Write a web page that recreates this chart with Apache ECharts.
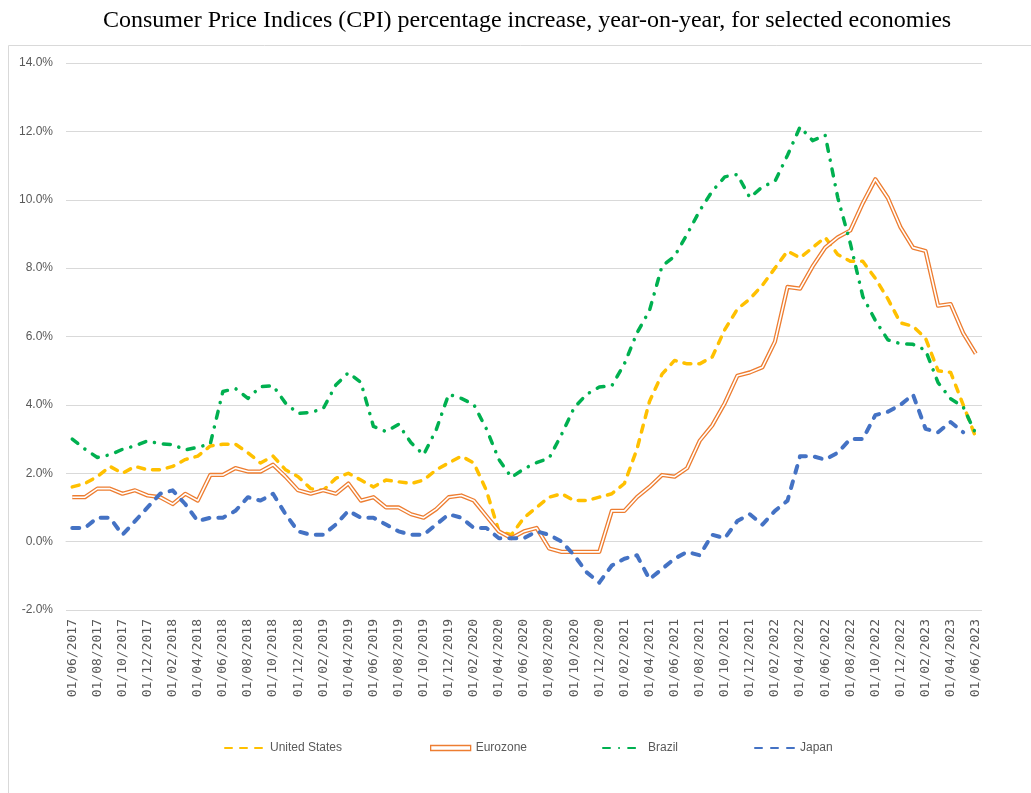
<!DOCTYPE html>
<html>
<head>
<meta charset="utf-8">
<script src="https://cdn.jsdelivr.net/npm/echarts@6/dist/echarts.min.js"></script>
<style>
  html, body { margin: 0; padding: 0; background: #fff; }
  #chart { width: 1031px; height: 793px; }
</style>
</head>
<body>
<div id="chart"></div>
<script>
const months = [
  '01/06/2017', '01/07/2017', '01/08/2017', '01/09/2017', '01/10/2017', '01/11/2017', '01/12/2017',
  '01/01/2018', '01/02/2018', '01/03/2018', '01/04/2018', '01/05/2018', '01/06/2018', '01/07/2018',
  '01/08/2018', '01/09/2018', '01/10/2018', '01/11/2018', '01/12/2018',
  '01/01/2019', '01/02/2019', '01/03/2019', '01/04/2019', '01/05/2019', '01/06/2019', '01/07/2019',
  '01/08/2019', '01/09/2019', '01/10/2019', '01/11/2019', '01/12/2019',
  '01/01/2020', '01/02/2020', '01/03/2020', '01/04/2020', '01/05/2020', '01/06/2020', '01/07/2020',
  '01/08/2020', '01/09/2020', '01/10/2020', '01/11/2020', '01/12/2020',
  '01/01/2021', '01/02/2021', '01/03/2021', '01/04/2021', '01/05/2021', '01/06/2021', '01/07/2021',
  '01/08/2021', '01/09/2021', '01/10/2021', '01/11/2021', '01/12/2021',
  '01/01/2022', '01/02/2022', '01/03/2022', '01/04/2022', '01/05/2022', '01/06/2022', '01/07/2022',
  '01/08/2022', '01/09/2022', '01/10/2022', '01/11/2022', '01/12/2022',
  '01/01/2023', '01/02/2023', '01/03/2023', '01/04/2023', '01/05/2023', '01/06/2023'
];

const unitedStates = [
  1.6, 1.7, 1.9, 2.2, 2.0, 2.2, 2.1,
  2.1, 2.2, 2.4, 2.5, 2.8, 2.85, 2.85, 2.6, 2.3, 2.5, 2.1, 1.9,
  1.55, 1.5, 1.85, 2.0, 1.8, 1.6, 1.8, 1.75, 1.7, 1.8, 2.1, 2.3,
  2.5, 2.3, 1.5, 0.3, 0.2, 0.7, 1.0, 1.3, 1.4, 1.2, 1.2, 1.3,
  1.4, 1.7, 2.7, 4.1, 4.9, 5.3, 5.2, 5.2, 5.4, 6.2, 6.8, 7.1,
  7.5, 8.0, 8.5, 8.3, 8.6, 8.9, 8.4, 8.2, 8.2, 7.7, 7.1, 6.4,
  6.3, 5.95, 5.0, 4.95, 4.0, 3.05
];

const eurozone = [
  1.3, 1.3, 1.55, 1.55, 1.4, 1.5, 1.35,
  1.3, 1.1, 1.4, 1.2, 1.95, 1.95, 2.15, 2.05, 2.05, 2.25, 1.9, 1.5,
  1.4, 1.5, 1.4, 1.7, 1.2, 1.3, 1.0, 1.0, 0.8, 0.7, 0.95, 1.3,
  1.35, 1.2, 0.75, 0.3, 0.1, 0.3, 0.4, -0.2, -0.3, -0.3, -0.3, -0.3,
  0.9, 0.9, 1.3, 1.6, 1.95, 1.9, 2.15, 2.95, 3.4, 4.05, 4.85, 4.95,
  5.1, 5.85, 7.45, 7.4, 8.05, 8.6, 8.9, 9.1, 9.9, 10.6, 10.05, 9.2,
  8.6, 8.5, 6.9, 6.95, 6.1, 5.5
];

const brazil = [
  3.0, 2.71, 2.46, 2.54, 2.7, 2.8, 2.95,
  2.86, 2.84, 2.68, 2.76, 2.86, 4.39, 4.48, 4.19, 4.53, 4.56, 4.05, 3.75,
  3.78, 3.89, 4.58, 4.94, 4.66, 3.37, 3.22, 3.43, 2.89, 2.54, 3.27, 4.31,
  4.19, 4.01, 3.3, 2.4, 1.88, 2.13, 2.31, 2.44, 3.14, 3.92, 4.31, 4.52,
  4.56, 5.2, 6.1, 6.76, 8.06, 8.35, 8.99, 9.68, 10.25, 10.67, 10.74, 10.06,
  10.38, 10.54, 11.3, 12.13, 11.73, 11.89, 10.07, 8.73, 7.17, 6.47, 5.9, 5.79,
  5.77, 5.6, 4.65, 4.18, 3.94, 3.16
];

const japan = [
  0.4, 0.4, 0.7, 0.7, 0.2, 0.6, 1.0,
  1.4, 1.5, 1.1, 0.6, 0.7, 0.7, 0.9, 1.3, 1.2, 1.4, 0.8, 0.3,
  0.2, 0.2, 0.5, 0.9, 0.7, 0.7, 0.5, 0.3, 0.2, 0.2, 0.5, 0.8,
  0.7, 0.4, 0.4, 0.1, 0.1, 0.1, 0.3, 0.2, 0.0, -0.4, -0.9, -1.2,
  -0.7, -0.5, -0.4, -1.1, -0.8, -0.5, -0.3, -0.4, 0.2, 0.1, 0.6, 0.8,
  0.5, 0.9, 1.2, 2.5, 2.5, 2.4, 2.6, 3.0, 3.0, 3.7, 3.8, 4.0,
  4.3, 3.3, 3.2, 3.5, 3.2, null
];

const yTicks = { min: -2, max: 14, step: 2 };

const gray = '#595959';
const gridGray = '#D9D9D9';
const font = 'Liberation Sans';

const chart = echarts.init(document.getElementById('chart'));

// one legend per entry so each sits where the original puts it
const legendAt = (name, left, extra) => Object.assign({
  data: [name],
  left: left,
  top: 737,
  itemWidth: 40,
  itemHeight: 14,
  itemGap: 4,
  itemStyle: { color: 'rgba(0,0,0,0)', borderColor: 'rgba(0,0,0,0)', borderWidth: 0 },
  textStyle: { color: gray, fontSize: 12, fontFamily: font }
}, extra || {});

chart.setOption({
  animation: false,
  title: {
    text: 'Consumer Price Indices (CPI) percentage increase, year-on-year, for selected economies',
    left: 98,
    top: 4,
    textStyle: { fontFamily: 'Liberation Serif', fontWeight: 'normal', fontSize: 24, color: '#000' }
  },
  graphic: [{
    type: 'rect',
    shape: { x: 8.5, y: 45.5, width: 1040, height: 800 },
    style: { fill: 'none', stroke: gridGray, lineWidth: 1 },
    silent: true,
    z: -10
  }],
  grid: { left: 66, right: 49, top: 63, bottom: 183 },
  legend: [
    legendAt('United States', 219),
    legendAt('Eurozone', 425, {
      data: [{ name: 'Eurozone', icon: 'rect', itemStyle: { color: '#fff', borderColor: '#ED7D31', borderWidth: 1.3 } }],
      itemHeight: 5
    }),
    legendAt('Brazil', 597, { itemGap: 10 }),
    legendAt('Japan', 749)
  ],
  xAxis: {
    type: 'category',
    data: months,
    boundaryGap: true,
    axisTick: { show: false },
    axisLine: { lineStyle: { color: gridGray } },
    axisLabel: {
      rotate: 90,
      interval: 1,
      color: gray,
      fontSize: 13,
      fontFamily: 'DejaVu Sans Mono',
      margin: 9
    }
  },
  yAxis: {
    type: 'value',
    min: yTicks.min,
    max: yTicks.max,
    interval: yTicks.step,
    axisLine: { show: false },
    axisTick: { show: false },
    splitLine: { lineStyle: { color: gridGray, width: 1 } },
    axisLabel: {
      color: gray,
      fontSize: 12,
      fontFamily: font,
      margin: 13,
      formatter: v => v.toFixed(1) + '%'
    }
  },
  series: [
    {
      name: 'United States',
      type: 'line',
      data: unitedStates,
      symbol: 'none',
      lineStyle: { color: '#FFC000', width: 3.5, type: [7, 8], cap: 'round', join: 'round' },
      itemStyle: { color: '#FFC000' }
    },
    {
      name: 'Eurozone',
      type: 'line',
      data: eurozone,
      symbol: 'none',
      lineStyle: { color: '#ED7D31', width: 4.2, join: 'round' },
      itemStyle: { color: '#ED7D31' }
    },
    {
      name: 'Eurozone inner',
      type: 'line',
      data: eurozone,
      symbol: 'none',
      silent: true,
      lineStyle: { color: '#fff', width: 1.6, join: 'round' }
    },
    {
      name: 'Brazil',
      type: 'line',
      data: brazil,
      symbol: 'none',
      lineStyle: { color: '#00B050', width: 3.5, type: [7, 9, 0.1, 9], cap: 'round', join: 'round' },
      itemStyle: { color: '#00B050' }
    },
    {
      name: 'Japan',
      type: 'line',
      data: japan,
      symbol: 'none',
      lineStyle: { color: '#4472C4', width: 4, type: [7, 9], cap: 'round', join: 'round' },
      itemStyle: { color: '#4472C4' }
    }
  ]
});
</script>
</body>
</html>
